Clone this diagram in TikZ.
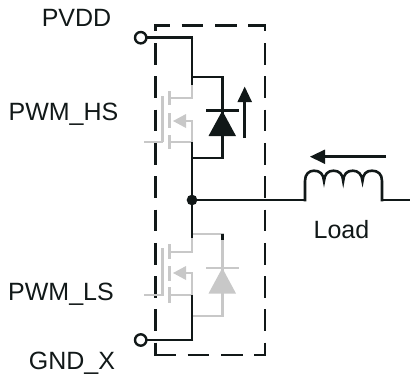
\documentclass[tikz,border=0pt]{standalone}
\usepackage{fontspec}
\setmainfont{Liberation Sans}
\definecolor{ink}{HTML}{111818}
\definecolor{pale}{HTML}{C8C8C8}
\tikzset{
  wire/.style={draw=ink,line width=2.6pt,line cap=butt},
  thin wire/.style={draw=ink,line width=2pt},
  gwire/.style={draw=pale,line width=2.6pt},
  gbar/.style={draw=pale,line width=3.3pt},
  gfill/.style={fill=pale,draw=none},
  kfill/.style={fill=ink,draw=none},
  boxdash/.style={draw=ink,line width=2.7pt,dash pattern=on 21.7pt off 11.6pt},
  term/.style={circle,draw=ink,line width=2.4pt,fill=white,minimum size=11.4pt,inner sep=0pt},
  junction/.style={circle,fill=ink,minimum size=10.7pt,inner sep=0pt},
  lab/.style={font=\fontsize{25}{28}\selectfont,text=ink,inner sep=0pt,anchor=base}
}
\begin{document}
\begin{tikzpicture}[x=1pt,y=-1pt]
\useasboundingbox (0,0) rectangle (413,376);
% dashed box
\draw[boxdash,dash phase=16pt] (155.7,25.7) -- (155.7,356.3);
\draw[boxdash,dash phase=16pt] (265,25.7) -- (265,356.3);
\draw[boxdash,dash phase=6pt] (154.4,25.7) -- (266.3,25.7);
\draw[boxdash] (154.4,355) -- (266.3,355);
% coordinates
\coordinate (J) at (192,200);
\coordinate (L1) at (305,200);
\coordinate (L2) at (382,200);
\coordinate (E) at (410,200);
% high side MOSFET
\foreach \a/\b in {91/105,113/128,135/149}{\draw[gbar] (169.3,\a) -- (169.3,\b);}
\draw[gbar] (162.7,96) -- (162.7,142);
\draw[gwire] (144,142) -- (163,142);
\draw[gwire] (192,85) -- (192,98) -- (169,98);
\draw[gwire] (178,121) -- (192,121) -- (192,142) -- (169,142);
\fill[gfill] (173,121) -- (186,114) -- (186,128) -- cycle;
% high side wires and diode
\draw[wire] (192,36.4) -- (192,85);
\draw[wire] (192,77) -- (222.3,77) -- (222.3,158) -- (192,158);
\draw[wire] (192,142) -- (192,200);
\draw[wire] (206,110.7) -- (239,110.7);
\fill[kfill] (222.3,110.7) -- (236,136) -- (208.5,136) -- cycle;
\draw[wire] (244.7,138) -- (244.7,100);
\fill[kfill] (244.7,86.7) -- (252,102) -- (237.4,102) -- cycle;
% low side MOSFET
\foreach \a/\b in {244/259,266/281,287/303}{\draw[gbar] (169.3,\a) -- (169.3,\b);}
\draw[gbar] (162.7,248) -- (162.7,296);
\draw[gwire] (144,295) -- (163,295);
\draw[gwire] (192,234) -- (192,252) -- (169,252);
\draw[gwire] (178,273) -- (192,273) -- (192,295) -- (169,295);
\fill[gfill] (173,273) -- (186,266) -- (186,280) -- cycle;
% low side diode
\draw[gwire] (192,234) -- (222.3,234) -- (222.3,316) -- (192,316);
\draw[gwire] (206,268) -- (239,268);
\fill[gfill] (222.3,268) -- (236,293.5) -- (208.5,293.5) -- cycle;
\draw[wire] (222.3,234) -- (222.3,240);
% black wires lower
\draw[wire] (192,200) -- (192,238);
\draw[wire] (192,295) -- (192,341.3) (193.3,340) -- (146,340);
\draw[wire] (193.3,37.7) -- (146,37.7);
% output
\draw[wire] (J) -- (L1);
\draw[thin wire] (L2) -- (E);
\draw[wire] (305,201.3) -- (305,181) .. controls (305,174) and (309,170.7) .. (314,170.7)
  .. controls (320,170.7) and (323.5,174) .. (324,181)
  .. controls (324.5,174) and (328,170.7) .. (333.5,170.7)
  .. controls (339,170.7) and (343,174) .. (343.2,181)
  .. controls (343.5,174) and (347,170.7) .. (352.7,170.7)
  .. controls (358,170.7) and (362,174) .. (362.5,181)
  .. controls (363,174) and (366,170.7) .. (372,170.7)
  .. controls (378,170.7) and (382,174) .. (382,181) -- (382,201.3);
\draw[wire] (386,156.7) -- (320,156.7);
\fill[kfill] (310,156.7) -- (325,149.5) -- (325,164) -- cycle;
% terminals
\node[junction] (jn) at (J) {};
\node[term] (t1) at (140.7,37.7) {};
\node[term] (t2) at (140.7,340) {};
% labels
\node[lab] (pvdd) at (76.5,26) {PVDD};
\node[lab] (hs) at (63.5,120) {PWM\_HS};
\node[lab] (ls) at (61,300) {PWM\_LS};
\node[lab] (gnd) at (72,369) {GND\_X};
\node[lab] (load) at (341.5,238) {Load};
\end{tikzpicture}
\end{document}
